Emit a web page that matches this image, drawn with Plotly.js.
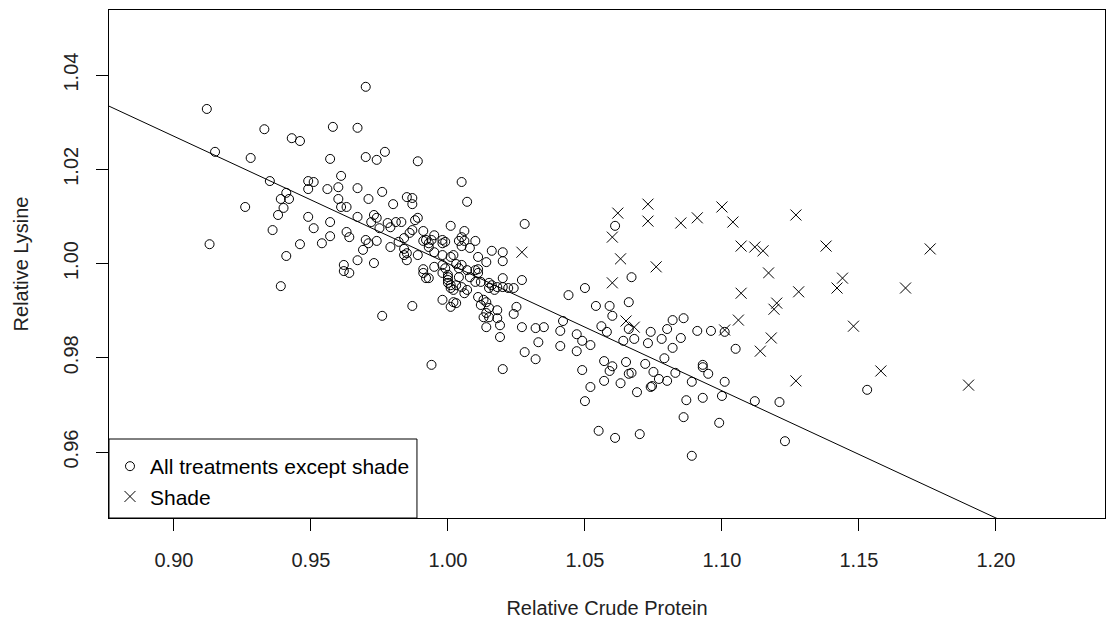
<!DOCTYPE html>
<html>
<head>
<meta charset="utf-8">
<script src="https://cdn.plot.ly/plotly-3.0.1.min.js"></script>
<style>html,body{margin:0;padding:0;background:#fff;}#chart{width:1107px;height:625px;}</style>
</head>
<body>
<div id="chart"></div>
<script>
// Relative crude protein / relative lysine, all treatments except shade
const crudeProteinAll = [
0.970,0.912,0.933,0.958,0.967,0.943,0.946,0.915,0.928,0.957,0.970,0.974,0.977,0.935,0.961,0.949,0.951,0.949,0.956,0.960,
0.967,0.976,0.941,0.939,0.942,0.940,0.926,0.938,0.960,0.961,0.963,0.971,0.980,0.949,0.951,0.936,0.957,0.967,0.973,0.974,
0.972,0.975,0.978,0.979,0.963,0.964,0.957,0.954,0.946,0.913,0.941,0.970,0.971,0.974,0.969,0.967,0.973,0.979,0.962,0.962,
0.964,0.939,0.976,1.005,1.007,0.985,0.987,0.987,1.001,0.981,0.983,0.988,0.989,0.987,0.991,1.006,1.005,1.004,1.006,1.010,
0.995,0.998,0.998,0.992,0.993,0.991,0.984,0.982,0.986,0.984,0.985,0.984,0.985,0.989,0.993,0.995,0.998,1.002,1.005,1.008,
1.011,1.014,1.016,1.020,1.020,0.991,0.991,0.992,0.993,0.995,0.998,0.999,0.998,1.000,1.001,1.003,1.004,1.005,1.007,1.010,
1.011,1.011,1.000,1.001,1.003,1.001,1.002,1.005,1.007,1.006,1.000,1.004,1.008,1.015,1.016,1.018,1.020,1.015,1.017,1.022,
1.024,1.020,1.027,0.998,1.002,1.001,1.003,0.987,1.011,1.012,1.013,1.014,1.014,1.013,1.015,1.015,1.018,1.018,1.019,1.014,
1.019,1.025,1.024,1.027,1.032,1.033,1.028,0.994,1.020,0.989,1.028,1.032,0.994,0.999,1.000,1.010,1.012,
1.067,1.050,1.044,1.066,1.054,1.059,1.060,1.066,1.042,1.035,1.041,1.047,1.049,1.052,1.047,1.041,1.056,1.058,1.064,1.068,
1.074,1.073,1.078,1.080,1.082,1.086,1.085,1.082,1.079,1.091,1.096,1.101,1.057,1.060,1.059,1.065,1.049,1.057,1.052,1.050,
1.066,1.067,1.063,1.072,1.075,1.077,1.080,1.083,1.069,1.074,1.0745,1.093,1.093,1.095,1.089,1.101,1.087,1.093,1.100,1.086,
1.099,1.055,1.061,1.070,1.089,1.061,1.105,1.112,1.121,1.123,1.153
];
const lysineAll = [
1.0375,1.0328,1.0285,1.0290,1.0288,1.0266,1.0260,1.0237,1.0224,1.0222,1.0226,1.0220,1.0237,1.0175,1.0186,1.0175,1.0173,1.0158,1.0158,1.0162,
1.0160,1.0152,1.0150,1.0137,1.0137,1.0118,1.0120,1.0103,1.0137,1.0120,1.0120,1.0137,1.0126,1.0099,1.0075,1.0071,1.0088,1.0099,1.0103,1.0097,
1.0088,1.0075,1.0086,1.0077,1.0067,1.0056,1.0058,1.0043,1.0041,1.0041,1.0016,1.0050,1.0043,1.0048,1.0029,1.0007,1.0001,1.0035,0.9997,0.9984,
0.9980,0.9952,0.9889,1.0173,1.0131,1.0141,1.0139,1.0126,1.0080,1.0088,1.0088,1.0092,1.0097,1.0071,1.0069,1.0069,1.0056,1.0048,1.0048,1.0048,
1.0060,1.0050,1.0043,1.0050,1.0043,1.0048,1.0054,1.0046,1.0065,1.0031,1.0022,1.0018,1.0007,1.0018,1.0035,1.0024,1.0018,1.0018,1.0037,1.0033,
1.0014,1.0003,1.0027,1.0024,1.0005,0.9988,0.9980,0.9969,0.9969,0.9993,0.9997,0.9990,0.9980,0.9976,1.0014,0.9999,0.9990,0.9997,0.9986,0.9986,
0.9988,0.9980,0.9959,0.9954,0.9954,0.9948,0.9944,0.9950,0.9944,0.9937,0.9965,0.9971,0.9971,0.9959,0.9954,0.9950,0.9950,0.9948,0.9944,0.9948,
0.9948,0.9969,0.9965,0.9923,0.9918,0.9908,0.9916,0.9910,0.9929,0.9912,0.9923,0.9918,0.9895,0.9886,0.9906,0.9886,0.9901,0.9884,0.9869,0.9865,
0.9844,0.9908,0.9893,0.9865,0.9863,0.9833,0.9812,0.9785,0.9776,1.0217,1.0084,0.9797,1.0050,1.0046,0.9971,0.9961,0.9961,
0.9971,0.9948,0.9933,0.9918,0.9910,0.9910,0.9889,0.9861,0.9878,0.9865,0.9857,0.9850,0.9836,0.9827,0.9814,0.9825,0.9867,0.9855,0.9836,0.9840,
0.9855,0.9831,0.9840,0.9861,0.9880,0.9884,0.9842,0.9821,0.9799,0.9857,0.9857,0.9855,0.9793,0.9782,0.9772,0.9791,0.9774,0.9751,0.9738,0.9708,
0.9766,0.9768,0.9746,0.9787,0.9770,0.9755,0.9751,0.9768,0.9727,0.9738,0.9740,0.9785,0.9780,0.9766,0.9749,0.9749,0.9710,0.9715,0.9719,0.9674,
0.9662,0.9645,0.9630,0.9638,0.9592,1.0080,0.9819,0.9708,0.9706,0.9623,0.9732
];
// Shade treatment
const crudeProteinShade = [
1.027,1.060,1.065,1.068,1.062,1.073,1.073,1.085,1.091,1.100,1.104,1.060,1.107,1.112,1.115,1.063,1.076,1.117,
1.127,1.138,1.176,1.144,1.142,1.167,1.107,1.128,1.120,1.119,1.106,1.101,1.118,1.114,1.148,1.158,1.127,1.190
];
const lysineShade = [
1.0024,0.9959,0.9878,0.9865,1.0107,1.0126,1.0090,1.0086,1.0097,1.0120,1.0088,1.0056,1.0037,1.0035,1.0027,1.0010,0.9993,0.9980,
1.0103,1.0037,1.0031,0.9969,0.9948,0.9948,0.9937,0.9940,0.9916,0.9903,0.9880,0.9859,0.9842,0.9814,0.9867,0.9772,0.9751,0.9742
];
// Fitted line: lysine = fitIntercept + fitSlope * crudeProtein
const fitIntercept = 1.27;
const fitSlope = -0.27;
const fitX = [0.85, 1.25];
const xTickVals = [0.90, 0.95, 1.00, 1.05, 1.10, 1.15, 1.20];
const xTickText = ["0.90", "0.95", "1.00", "1.05", "1.10", "1.15", "1.20"];
const yTickVals = [0.96, 0.98, 1.00, 1.02, 1.04];
const yTickText = ["0.96", "0.98", "1.00", "1.02", "1.04"];

const FONT = "Liberation Sans, Arial, sans-serif";

const traces = [
  {
    x: fitX, y: fitX.map(v => fitIntercept + fitSlope * v),
    mode: "lines", type: "scatter", showlegend: false, hoverinfo: "skip",
    line: {color: "#000", width: 1}
  },
  {
    x: crudeProteinAll, y: lysineAll, mode: "markers", type: "scatter",
    name: "All treatments except shade",
    marker: {symbol: "circle-open", size: 9, color: "#000", line: {width: 1, color: "#000"}}
  },
  {
    x: crudeProteinShade, y: lysineShade, mode: "markers", type: "scatter",
    name: "Shade",
    marker: {symbol: "x-thin-open", size: 11, color: "#000", line: {width: 1, color: "#000"}}
  }
];

const layout = {
  width: 1107, height: 625,
  margin: {l: 109, r: 2, t: 10, b: 107, pad: 0},
  paper_bgcolor: "#fff", plot_bgcolor: "#fff",
  font: {family: FONT, size: 21, color: "#000"},
  showlegend: true,
  legend: {
    x: 0.001, y: 0.1417, xanchor: "left", yanchor: "top",
    bgcolor: "rgba(0,0,0,0)", borderwidth: 0,
    font: {family: FONT, size: 21, color: "#000"},
    traceorder: "normal"
  },
  shapes: [
    {type: "rect", xref: "paper", yref: "paper", x0: 0, x1: 0.3092, y0: 0, y1: 0.1555,
     fillcolor: "#fff", line: {color: "#000", width: 1}, layer: "above"}
  ],
  xaxis: {
    range: [0.8763, 1.2398],
    tickmode: "array", tickvals: xTickVals, ticktext: xTickText,
    ticks: "outside", ticklen: 12, tickwidth: 1, tickcolor: "#000",
    showline: true, linecolor: "#000", linewidth: 1, mirror: true,
    showgrid: false, zeroline: false,
    tickfont: {family: FONT, size: 20, color: "#222"},
    ticklabelstandoff: 12,
    title: {text: "Relative Crude Protein", font: {family: FONT, size: 20, color: "#222"}, standoff: 30}
  },
  yaxis: {
    range: [0.946, 1.0538],
    tickmode: "array", tickvals: yTickVals, ticktext: yTickText,
    ticks: "outside", ticklen: 12, tickwidth: 1, tickcolor: "#000",
    showline: true, linecolor: "#000", linewidth: 1, mirror: true,
    showgrid: false, zeroline: false, tickangle: -90,
    tickfont: {family: FONT, size: 20, color: "#222"},
    ticklabelstandoff: 10,
    title: {text: "Relative Lysine", font: {family: FONT, size: 20, color: "#222"}, standoff: 26}
  }
};

Plotly.newPlot("chart", traces, layout, {displayModeBar: false, staticPlot: true});
</script>
</body>
</html>
